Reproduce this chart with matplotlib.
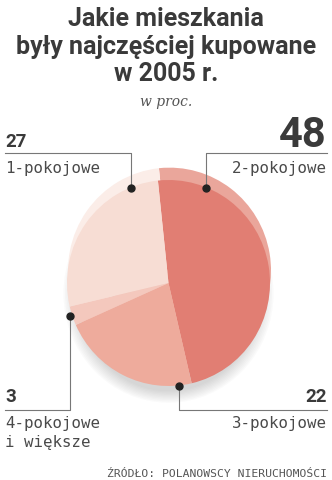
import matplotlib.pyplot as plt
from matplotlib.patches import Ellipse

W, H = 332, 480

labels = ["2-pokojowe", "3-pokojowe", "4-pokojowe\ni większe", "1-pokojowe"]
values = [48, 22, 3, 27]
front_colors = ["#e17e73", "#eeab9c", "#f4c8bd", "#f7ddd4"]
back_colors = ["#eaa69b", "#f2c2b6", "#f8dcd4", "#fbede8"]

TITLE = ["Jakie mieszkania", "były najczęściej kupowane", "w 2005 r."]
SUBTITLE = "w proc."
SOURCE = "ŹRÓDŁO: POLANOWSCY NIERUCHOMOŚCI"

fig = plt.figure(figsize=(W / 100, H / 100), dpi=100)
fig.patch.set_facecolor("white")

# overlay axes in pixel units for text and leader lines
ax = fig.add_axes([0, 0, 1, 1])
ax.set_xlim(0, W)
ax.set_ylim(H, 0)
ax.axis("off")

# pie axes: bbox of the front ellipse
pl, pr, pt, pb = 67, 270, 180, 386
pax = fig.add_axes([pl / W, 1 - pb / H, (pr - pl) / W, (pb - pt) / H])
pax.set_zorder(0)
ax.set_zorder(1)
ax.patch.set_alpha(0)

# soft shadow under the pie
for i in range(10):
    pax.add_patch(Ellipse((0.0, -0.10), 1.80 + i * 0.03, 1.90 + i * 0.025,
                          facecolor="#7a7a7a", alpha=0.03, lw=0, zorder=0,
                          clip_on=False))

# back layer (rim) slightly raised
pax.pie(values, colors=back_colors, startangle=96, counterclock=False,
        radius=1.0, center=(0.01, 0.12),
        wedgeprops=dict(linewidth=0, zorder=1))
pax.pie(values, colors=front_colors, startangle=96, counterclock=False,
        radius=1.0, center=(0, 0),
        wedgeprops=dict(linewidth=0, zorder=2))
pax.set_aspect("auto")
pax.set_xlim(-1, 1)
pax.set_ylim(-1, 1)
pax.axis("off")
for p in pax.patches:
    p.set_clip_on(False)

# title
dark = "#3a3a3a"
for txt, yb in zip(TITLE, [26, 54, 81]):
    ax.text(166, yb, txt, ha="center", va="baseline", fontsize=18,
            fontweight="bold", family="Roboto", color=dark)
ax.text(166, 106, SUBTITLE, ha="center", va="baseline", fontsize=10,
        style="italic", family="DejaVu Serif", color="#555555")

lab_font = dict(family="DejaVu Sans Mono", fontsize=11.3, color="#4a4a4a")
num_font = dict(family="Roboto", fontweight="bold", color=dark)
line_kw = dict(color="#777777", lw=0.8)
dot_kw = dict(marker="o", ms=5, color="#222222", zorder=5)

# 1-pokojowe (27)
ax.text(5, 147, str(values[3]), ha="left", va="baseline", fontsize=13.5, **num_font)
ax.text(5, 173, labels[3], ha="left", va="baseline", **lab_font)
ax.plot([5, 131, 131], [153, 153, 188], **line_kw)
ax.plot(131, 188, **dot_kw)

# 2-pokojowe (48)
ax.text(327, 147, str(values[0]), ha="right", va="baseline", fontsize=30, **num_font)
ax.text(327, 173, labels[0], ha="right", va="baseline", **lab_font)
ax.plot([327, 206, 206], [153, 153, 188], **line_kw)
ax.plot(206, 188, **dot_kw)

# 4-pokojowe i większe (3)
ax.text(5, 402, str(values[2]), ha="left", va="baseline", fontsize=13.5, **num_font)
l1, l2 = labels[2].split("\n")
ax.text(5, 428, l1, ha="left", va="baseline", **lab_font)
ax.text(5, 447, l2, ha="left", va="baseline", **lab_font)
ax.plot([5, 70, 70], [410, 410, 316], **line_kw)
ax.plot(70, 316, **dot_kw)

# 3-pokojowe (22)
ax.text(327, 402, str(values[1]), ha="right", va="baseline", fontsize=13.5, **num_font)
ax.text(327, 428, labels[1], ha="right", va="baseline", **lab_font)
ax.plot([327, 179, 179], [410, 410, 386], **line_kw)
ax.plot(179, 386, **dot_kw)

# source
ax.text(327, 477, SOURCE, ha="right", va="baseline", fontsize=8.2,
        family="DejaVu Sans Mono", color="#555555")

fig.savefig("out.png", dpi=100, facecolor="white")
